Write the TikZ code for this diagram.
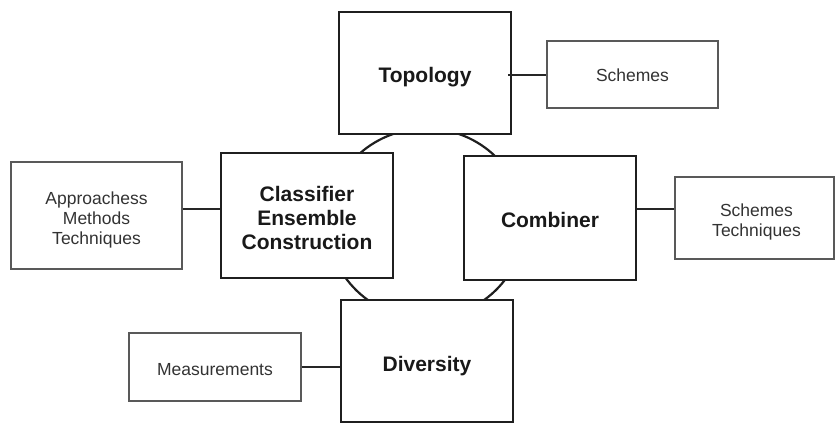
\documentclass[tikz,border=0pt]{standalone}
\usepackage{fontspec}
\setmainfont{Liberation Sans}
\usetikzlibrary{calc}
\begin{document}
\begin{tikzpicture}[x=1pt,y=-1pt,
  mainbox/.style={draw=black!88, line width=2.6pt, fill=white, inner sep=0pt,
    minimum width=172pt},
  sidebox/.style={draw=black!65, line width=1.3pt, fill=white, inner sep=0pt},
  maintext/.style={inner sep=0pt, align=center,
    font=\fontsize{21}{24}\selectfont\bfseries, text=black!90},
  sidetext/.style={inner sep=0pt, align=center,
    font=\fontsize{17.5}{20}\selectfont, text=black!80},
  link/.style={line width=2pt, draw=black!85},
  ring/.style={line width=2.2pt, draw=black!88}]
\useasboundingbox (0,0) rectangle (835,424);

% ring behind the four main boxes
\draw[ring] (426,223.5) ellipse [x radius=98pt, y radius=95pt];

% main boxes
\node[mainbox, minimum height=122pt] (topo) at (425,73) {};
\node[mainbox, minimum height=125pt] (cec) at (307,215.5) {};
\node[mainbox, minimum height=124pt] (comb) at (550,218) {};
\node[mainbox, minimum height=122pt] (div) at (427,361) {};

% side boxes
\node[sidebox, minimum width=171pt, minimum height=67pt] (schemes) at (632.5,74.5) {};
\node[sidebox, minimum width=171pt, minimum height=107pt] (appr) at (96.5,215.5) {};
\node[sidebox, minimum width=159pt, minimum height=82pt] (schtech) at (754.5,218) {};
\node[sidebox, minimum width=172pt, minimum height=68pt] (meas) at (215,367) {};

% box texts
\node[maintext] (topoT) at ([yshift=-4pt]topo.center) {Topology};
\node[maintext] (cecT) at ([yshift=-2pt]cec.center) {Classifier\\Ensemble\\Construction};
\node[maintext] (combT) at ([yshift=-2pt]comb.center) {Combiner};
\node[maintext] (divT) at ([yshift=-5pt]div.center) {Diversity};
\node[sidetext] (schemesT) at ([yshift=-1pt]schemes.center) {Schemes};
\node[sidetext] (apprT) at ([yshift=-4.5pt]appr.center) {Approachess\\Methods\\Techniques};
\node[sidetext] (schtechT) at ([yshift=-3.5pt,xshift=2pt]schtech.center) {Schemes\\Techniques};
\node[sidetext] (measT) at ([yshift=-2.5pt]meas.center) {Measurements};

% connectors
\draw[link] ($(topo.east |- schemes.west)+(-4,0)$) -- (schemes.west);
\draw[link] ($(appr.east)+(0,-6.5)$) -- ($(appr.east -| cec.west)+(0,-6.5)$);
\draw[link] ($(comb.east)+(0,-9)$) -- ($(comb.east -| schtech.west)+(0,-9)$);
\draw[link] (meas.east) -- (meas.east -| div.west);
\end{tikzpicture}
\end{document}
